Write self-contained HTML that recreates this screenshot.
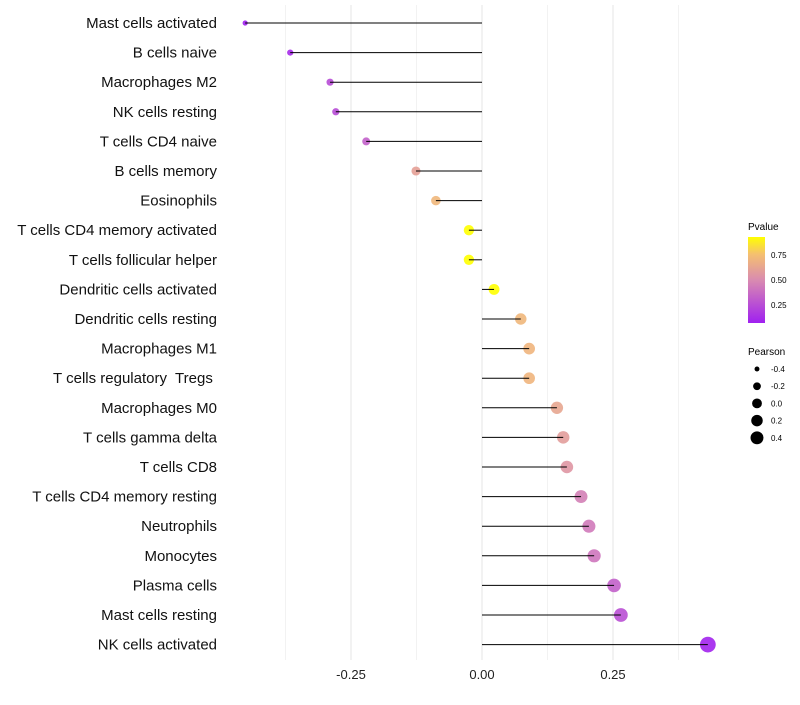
<!DOCTYPE html>
<html><head><meta charset="utf-8"><style>
body{margin:0;background:#fff;font-family:"Liberation Sans",sans-serif}
text{white-space:pre}
</style></head><body>
<svg id="c" width="800" height="700" xmlns="http://www.w3.org/2000/svg">
<defs><linearGradient id="pg" x1="0" y1="1" x2="0" y2="0">
<stop offset="0" stop-color="#a020f0"/><stop offset="0.5" stop-color="#d98bb0"/><stop offset="0.8" stop-color="#f5c070"/><stop offset="1" stop-color="#ffff00"/></linearGradient></defs>
<g id="grid"></g><g id="dots"></g><g id="marks"></g><g id="labels"></g>
<g>
<text x="748" y="230" font-size="10">Pvalue</text>
<rect x="748" y="237" width="17" height="86" fill="url(#pg)"/>
<text x="771" y="258" font-size="8">0.75</text>
<text x="771" y="283" font-size="8">0.50</text>
<text x="771" y="308" font-size="8">0.25</text>
</g>
<g id="sizeleg">
<text x="748" y="355" font-size="10">Pearson</text>
</g>
</svg>
<script>
const categories=["Mast cells activated","B cells naive","Macrophages M2","NK cells resting","T cells CD4 naive","B cells memory","Eosinophils","T cells CD4 memory activated","T cells follicular helper","Dendritic cells activated","Dendritic cells resting","Macrophages M1","T cells regulatory  Tregs ","Macrophages M0","T cells gamma delta","T cells CD8","T cells CD4 memory resting","Neutrophils","Monocytes","Plasma cells","Mast cells resting","NK cells activated"];
const pearson=[-0.452,-0.366,-0.290,-0.279,-0.221,-0.126,-0.088,-0.025,-0.025,0.023,0.074,0.090,0.090,0.143,0.155,0.162,0.189,0.204,0.214,0.252,0.265,0.431];
const pvalue=[0.0,0.05,0.2,0.2,0.3,0.62,0.75,0.92,0.92,0.92,0.75,0.74,0.74,0.65,0.6,0.56,0.45,0.42,0.4,0.3,0.22,0.02];
const xticks=[-0.25,0,0.25];
const xtickLabels=["-0.25","0.00","0.25"];
const sizeLegend=[-0.4,-0.2,0,0.2,0.4];
const NS="http://www.w3.org/2000/svg";
const xs=v=>482+v*524;
const ys=i=>23+i*29.6;
const rs=v=>Math.max(1.5,5.3+6*v);
const rl=v=>Math.sqrt(Math.max(1,24+44.7*v));
function col(p){const st=[[0,[160,32,240]],[0.5,[217,139,176]],[0.8,[245,192,112]],[0.92,[255,255,0]]];p=Math.min(0.92,Math.max(0,p));
for(let k=0;k<st.length-1;k++){const a=st[k],b=st[k+1];if(p<=b[0]){const t=(p-a[0])/(b[0]-a[0]);return "rgb("+a[1].map((c,j)=>Math.round(c+(b[1][j]-c)*t)).join(",")+")";}}return "rgb(255,255,0)";}
function mk(t,at,par){const e=document.createElementNS(NS,t);for(const k in at)e.setAttribute(k,at[k]);document.getElementById(par).appendChild(e);return e;}
[-0.375,-0.125,0.125,0.375].forEach(v=>{const l=mk("line",{x1:xs(v),x2:xs(v),y1:5,y2:660,stroke:"#f2f2f2","stroke-width":1},"grid");

});
xticks.forEach((v,i)=>{const l=mk("line",{x1:xs(v),x2:xs(v),y1:5,y2:660,stroke:"#e6e6e6","stroke-width":1},"grid");


const t=mk("text",{x:xs(v),y:679,"font-size":13,"text-anchor":"middle",fill:"#222"},"labels");t.textContent=xtickLabels[i];

});
categories.forEach((c,i)=>{const y=ys(i);
const t=mk("text",{x:217,y:y+5,"font-size":15,"text-anchor":"end",fill:"#111"},"labels");t.textContent=c;


const d=mk("circle",{cx:xs(pearson[i]),cy:y,r:rs(pearson[i]),fill:col(pvalue[i]),"fill-opacity":0.9},"dots");


const l=mk("line",{x1:xs(0),x2:xs(pearson[i]),y1:y,y2:y,stroke:"#000","stroke-width":1},"marks");

});
sizeLegend.forEach((v,i)=>{const y=369+i*17.2;
const d=mk("circle",{cx:757,cy:y,r:rl(v),fill:"#000"},"sizeleg");


const t=mk("text",{x:771,y:y+3,"font-size":8},"sizeleg");t.textContent=v.toFixed(1);

});
</script>
</body></html>
